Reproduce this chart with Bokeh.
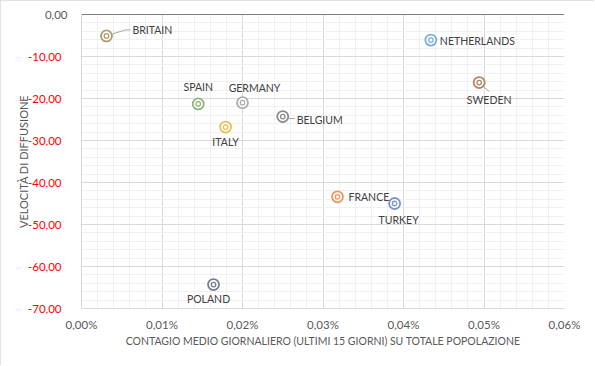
from bokeh.plotting import figure
from bokeh.models import (ColumnDataSource, FixedTicker, CustomJSTickFormatter, Span, Label, Range1d)
from bokeh.core.properties import value
from bokeh.embed import file_html
from bokeh.resources import INLINE

countries = ["BRITAIN", "SPAIN", "GERMANY", "BELGIUM", "ITALY", "NETHERLANDS", "SWEDEN", "FRANCE", "TURKEY", "POLAND"]
contagio = [0.0031, 0.0145, 0.0200, 0.0250, 0.0179, 0.0434, 0.0494, 0.0318, 0.0389, 0.0164]  # % of population
velocita = [-5.1, -21.3, -21.0, -24.3, -26.8, -6.1, -16.2, -43.4, -45.0, -64.3]
colors = ["#A89060", "#85AD6A", "#A5A5A5", "#7F7F7F", "#E6B83E", "#6FA5D8", "#A87858", "#EE8A4A", "#7088C0", "#66708E"]

x_ticks = [0.0, 0.01, 0.02, 0.03, 0.04, 0.05, 0.06]
y_ticks = [-70, -60, -50, -40, -30, -20, -10, 0]

# label placement (screen pixel offsets from each marker; positive dy = down)
lab_dx = [26, 0, 12, 14, 0, 9, 10, 11, 4, -5]
lab_dy = [-6, -17, -15, 3, 15, 1, 17, 0, 16, 14]
lab_align = ["left", "center", "center", "left", "center", "left", "center", "left", "center", "center"]

FONT = "Lato"

p = figure(width=594, height=365, output_backend="svg", toolbar_location=None,
           x_range=Range1d(0, 0.06), y_range=Range1d(-70, 0),
           min_border_left=81, min_border_right=30, min_border_top=14, min_border_bottom=57)
p.outline_line_color = None
p.background_fill_color = "white"
p.border_fill_color = "white"
p.styles = {"outline": "1px solid #D9D9D9", "outline-offset": "-1px"}

# axes
p.xaxis.ticker = FixedTicker(ticks=x_ticks, minor_ticks=[i * 0.002 for i in range(31)])
p.yaxis.ticker = FixedTicker(ticks=y_ticks, minor_ticks=[-70 + 2 * i for i in range(36)])
p.xaxis.formatter = CustomJSTickFormatter(code="return tick.toFixed(2).replace('.', ',') + '%';")
p.yaxis.formatter = CustomJSTickFormatter(code="return tick == 0 ? '' : tick.toFixed(2).replace('.', ',');")
for ax in (p.xaxis[0], p.yaxis[0]):
    ax.major_tick_line_color = None
    ax.minor_tick_line_color = None
    ax.axis_line_color = "#D9D9D9"
    ax.major_label_text_font = FONT
    ax.major_label_text_font_size = "11.5px"
    ax.axis_label_text_font = FONT
    ax.axis_label_text_font_size = "10.5px"
    ax.axis_label_text_font_style = "normal"
    ax.axis_label_text_color = "#595959"
p.yaxis.axis_label_text_font_size = "11px"
p.xaxis.major_label_text_color = "#595959"
p.yaxis.major_label_text_color = "#FF0000"
p.xaxis.major_label_standoff = 3
p.yaxis.major_label_standoff = 14
p.xaxis.axis_label_standoff = 1
p.yaxis.axis_label_standoff = -5
p.xaxis.axis_label = "CONTAGIO MEDIO GIORNALIERO (ULTIMI 15 GIORNI) SU TOTALE POPOLAZIONE"
p.yaxis.axis_label = "VELOCITÀ DI DIFFUSIONE"

# zero tick label (grey instead of red); hosted in the roomy right panel, positioned in data space
p.add_layout(Label(x=0, y=0, x_offset=-14, text="0,00", text_align="right",
                   text_baseline="middle", text_font=FONT, text_font_size="11.5px",
                   text_color="#595959"), "right")

# grids
p.xgrid.grid_line_color = "#D9D9D9"
p.ygrid.grid_line_color = "#D9D9D9"
p.xgrid.minor_grid_line_color = "#F0F0F0"
p.ygrid.minor_grid_line_color = "#F0F0F0"
p.xgrid.level = "underlay"
p.ygrid.level = "underlay"

# horizontal axis line at zero (top)
p.add_layout(Span(location=0, dimension="width", line_color="black", line_width=1.2))

src = ColumnDataSource(dict(x=contagio, y=velocita, c=colors, name=countries,
                            dx=lab_dx, dy=lab_dy, al=lab_align))

# leader lines (BRITAIN, BELGIUM, SWEDEN) in pixel-derived data offsets
px_x = 0.01 / 80.5
px_y = 10 / 42.0
lead = {"BRITAIN": [(6, -2), (19, -6), (24, -6)], "BELGIUM": [(6, 2), (12, 2)], "SWEDEN": [(4, 4), (10, 9)]}
for name, pts in lead.items():
    i = countries.index(name)
    xs = [contagio[i] + a * px_x for a, b in pts]
    ys = [velocita[i] - b * px_y for a, b in pts]
    p.line(xs, ys, line_color="#A6A6A6", line_width=1)

p.scatter("x", "y", source=src, size=11, marker="circle", fill_color="white",
          line_color="c", line_width=1.8, line_alpha=0.9)
p.scatter("x", "y", source=src, size=4.5, marker="circle", fill_color=None,
          line_color="c", line_width=1.3, line_alpha=0.9)

p.text("x", "y", text="name", source=src, x_offset="dx", y_offset="dy", text_align="al",
       text_baseline="middle", text_font=value(FONT), text_font_size="10.5px", text_color="#404040")

open("out.html", "w").write(file_html(p, INLINE))
